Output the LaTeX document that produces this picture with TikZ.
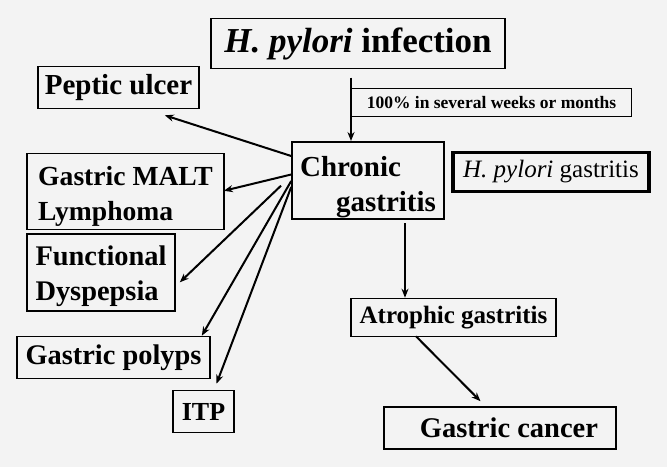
\documentclass[tikz,border=0pt]{standalone}
\usepackage{fontspec}
\setmainfont{Liberation Serif}
\usetikzlibrary{arrows.meta,calc}

\definecolor{bgpaper}{HTML}{F3F3F3}

\tikzset{
  box/.style={draw, line width=1.6pt, inner sep=0pt},
  note/.style={draw, line width=1pt, inner sep=0pt},
  flow/.style={-{Stealth[length=9pt,width=7pt]}, line width=2pt},
}
\newcommand{\fsz}[2]{\bfseries\fontsize{#1}{#2}\selectfont}
% two left aligned lines, lowered by #1
\newcommand{\twolines}[3]{\raisebox{#1}[0pt][0pt]{\begin{tabular}{@{}l@{}}#2\\#3\end{tabular}}}

\begin{document}
\begin{tikzpicture}[x=1pt, y=-1pt]
        % Page
        \fill[bgpaper] (0,0) rectangle (667,467);
        \useasboundingbox (0,0) rectangle (667,467);

        % Top of the chain
        \node[box, minimum width=294, minimum height=50, font=\fsz{35}{40}] (infect) at (358,43.5)
            {\textit{H. pylori} infection};
        \node[note, minimum width=280, minimum height=28, anchor=west, font=\fsz{17.5}{20}] (weeks) at (351,102.5)
            {100\% in several weeks or months};

        % Chronic gastritis
        \node[box, minimum width=152, minimum height=77, font=\fsz{29}{35}] (chronic) at (368,180.3)
            {\twolines{-12.5pt}{Chronic}{\hspace*{36pt}gastritis}};
        \node[draw, line width=3.2pt, minimum width=196, minimum height=39, inner sep=0pt,
              font=\fontsize{25}{30}\selectfont] (hpgast) at (551,172)
            {\textit{H. pylori} gastritis};

        % Left side diseases
        \node[box, minimum width=161, minimum height=42, font=\fsz{29}{34}] (peptic) at (118.5,87.5)
            {Peptic ulcer};
        \node[box, minimum width=197, minimum height=76, font=\fsz{27.6}{35}] (malt) at (125.5,191.3)
            {\twolines{-11pt}{Gastric MALT}{Lymphoma}};
        \node[box, minimum width=148, minimum height=77, font=\fsz{28.4}{35}] (dysp) at (101,272.3)
            {\twolines{-10.3pt}{Functional}{Dyspepsia}};
        \node[box, minimum width=193, minimum height=42, font=\fsz{28.4}{33}] (polyps) at (113.5,357.5)
            {Gastric polyps};
        \node[box, minimum width=61, minimum height=42, font=\fsz{26}{30}] (itp) at (203.5,411.5)
            {ITP};

        % Right side chain
        \node[box, minimum width=205, minimum height=38, font=\fsz{25}{30}] (atroph) at (453.5,317.5)
            {Atrophic gastritis};
        \node[box, minimum width=232, minimum height=42, font=\fsz{28.5}{33}] (cancer) at (500,428)
            {\hspace*{18pt}Gastric cancer};

        % Arrows
        \coordinate (infbot) at (351,77.7);
        \draw[flow] (infbot) -- (infbot |- chronic.north);
        \draw[flow] ($(chronic.north west)+(0,15)$) -- ($(peptic.south east)+(-35,6)$);
        \draw[flow] ($(chronic.north west)+(0,33.5)$) -- ($(malt.east)+(-1,-0.5)$);
        \coordinate (fanstart) at (281,185.7);
        \draw[flow] (fanstart) -- ($(dysp.east)+(4,10)$);
        \draw[flow] ($(chronic.north west)+(0,40)$) -- ($(polyps.north east)+(-9,0)$);
        \draw[flow] ($(chronic.north west)+(0,46)$) -- ($(itp.north)+(13,-6)$);
        \coordinate (chrbot) at (405,223.3);
        \draw[flow] (chrbot) -- (chrbot |- atroph.north);
        \coordinate (atrbot) at (416,336.3);
        \draw[flow] (atrbot) -- ($(cancer.north)+(-19.5,-5)$);
    \end{tikzpicture}
\end{document}
